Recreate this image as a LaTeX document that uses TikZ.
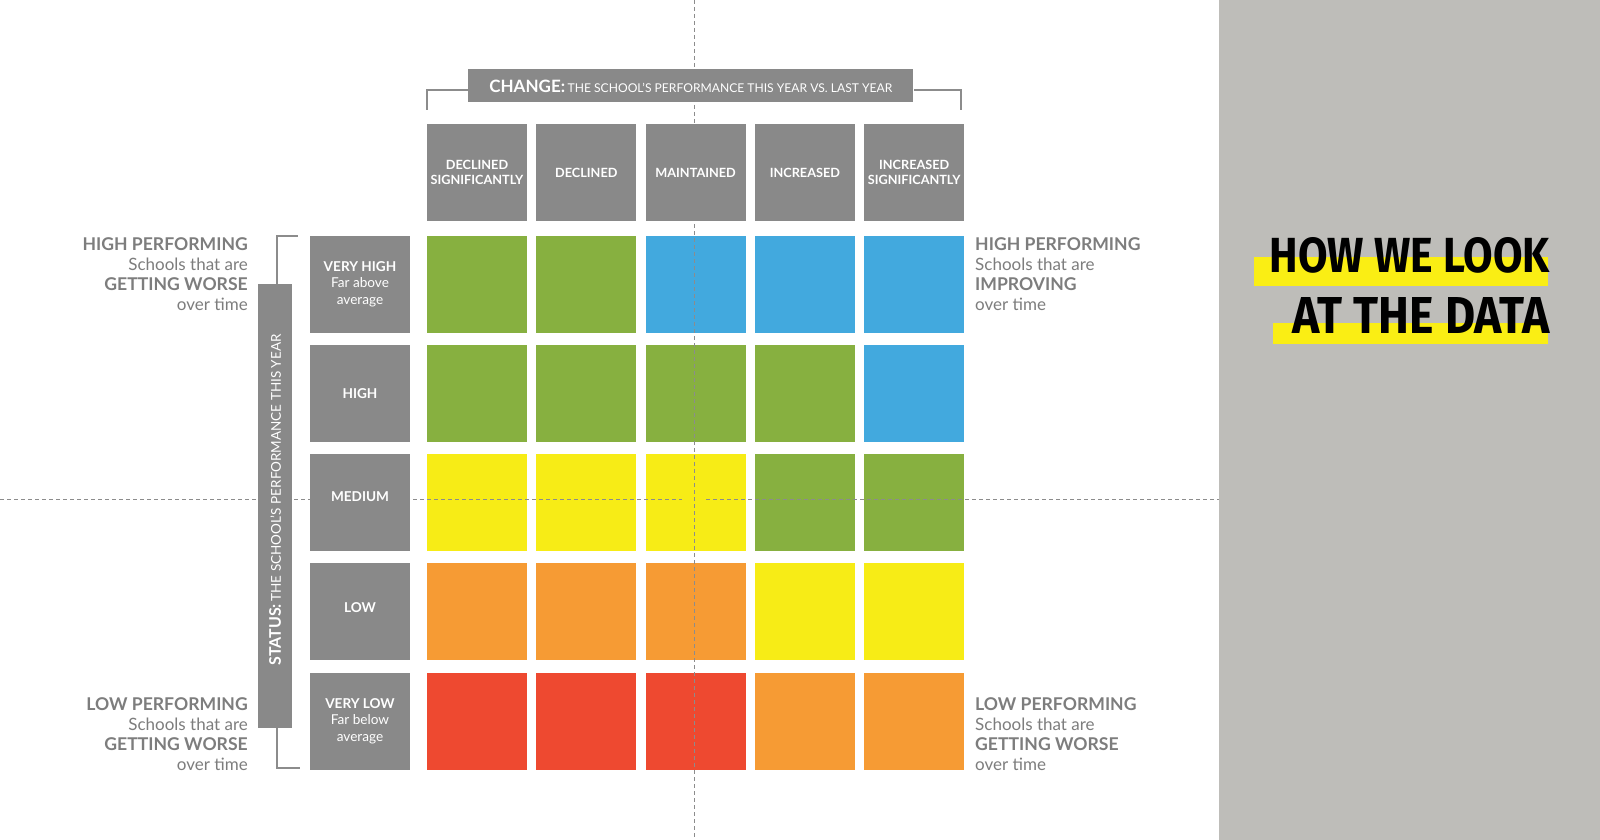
\documentclass[tikz,border=0pt]{standalone}
\usepackage{fontspec}
\setmainfont{Lato}
\newfontfamily\titlefont{Fira Sans}
\usepackage{graphicx}
\definecolor{boxgray}{RGB}{137,137,137}
\definecolor{textgray}{RGB}{125,125,125}
\definecolor{dashgray}{RGB}{140,140,140}
\definecolor{brgray}{RGB}{140,140,140}
\definecolor{panelgray}{RGB}{190,189,185}
\definecolor{cg}{RGB}{135,176,64}
\definecolor{cb}{RGB}{66,169,222}
\definecolor{cy}{RGB}{247,236,22}
\definecolor{co}{RGB}{246,155,52}
\definecolor{cr}{RGB}{238,73,48}
\definecolor{hiyellow}{RGB}{250,238,20}
\begin{document}
\begin{tikzpicture}[x=1pt,y=-1pt,
  cell/.style={minimum width=100pt, minimum height=97pt, inner sep=0pt, draw=none},
  graybox/.style={fill=boxgray, text=white, inner sep=0pt, align=center},
  headbox/.style={graybox, minimum width=100pt, minimum height=96pt, font=\fontsize{12.7}{14.3}\selectfont\bfseries},
  rowbox/.style={graybox, minimum width=100pt, minimum height=97pt, font=\fontsize{13.6}{16.3}\selectfont},
  dashln/.style={draw=dashgray, line width=1pt, dash pattern=on 4pt off 3pt},
  bracket/.style={draw=brgray, line width=1.5pt},
  sidetext/.style={text=textgray, inner sep=0pt, font=\fontsize{17}{20}\selectfont},
]
\useasboundingbox (0,0) rectangle (1600,840);
\fill[white] (0,0) rectangle (1600,840);
\fill[panelgray] (1219,0) rectangle (1600,840);

% colour cells
\foreach \c/\r/\col in {
 0/0/cg,1/0/cg,2/0/cb,3/0/cb,4/0/cb,
 0/1/cg,1/1/cg,2/1/cg,3/1/cg,4/1/cb,
 0/2/cy,1/2/cy,2/2/cy,3/2/cg,4/2/cg,
 0/3/co,1/3/co,2/3/co,3/3/cy,4/3/cy,
 0/4/cr,1/4/cr,2/4/cr,3/4/co,4/4/co}{
  \node[cell, fill=\col] (c\c\r) at ({477+109.3*\c},{284.2+109.2*\r}) {};
}

% dashed guide lines
\coordinate (vt) at (694,0);
\coordinate (vb) at (694,840);
\coordinate (hl) at (0,499);
\coordinate (hg1) at (682,499);
\coordinate (hg2) at (706,499);
\coordinate (hr) at (1219,499);
\draw[dashln] (vt) -- (vb);
\draw[dashln] (hl) -- (hg1);
\draw[dashln] (hg2) -- (hr);

% column headers
\node[headbox] (h0) at (477,172.5) {DECLINED\\SIGNIFICANTLY};
\node[headbox] (h1) at (586.3,172.5) {DECLINED};
\node[headbox] (h2) at (695.6,172.5) {MAINTAINED};
\node[headbox] (h3) at (804.9,172.5) {INCREASED};
\node[headbox] (h4) at (914.2,172.5) {INCREASED\\SIGNIFICANTLY};

% row labels
\node[rowbox] (r0) at (360,284.2) {{\bfseries VERY HIGH}\\Far above\\average};
\node[rowbox] (r1) at (360,393.4) {\bfseries HIGH};
\node[rowbox, text height=44.5pt, text depth=46.5pt] (r2) at (360,502.6) {\bfseries MEDIUM};
\node[rowbox, text height=46pt, text depth=45pt] (r3) at (360,611.8) {\bfseries LOW};
\node[rowbox] (r4) at (360,721.0) {{\bfseries VERY LOW}\\Far below\\average};

% change bar
\node[graybox, minimum width=445pt, minimum height=33pt] (chg) at (690.8,86)
  {{\fontsize{17}{17}\selectfont\bfseries CHANGE:} {\fontsize{12.1}{14}\selectfont THE SCHOOL’S PERFORMANCE THIS YEAR VS. LAST YEAR}};
\coordinate (ctl) at (427,110);
\coordinate (ctr) at (961,110);
\draw[bracket] (ctl) |- ([yshift=-4pt]chg.west);
\draw[bracket] (ctr) |- ([yshift=-4pt]chg.east);

% status bar
\node[graybox, minimum width=34pt, minimum height=444pt] (stat) at (275,506) {};
\node[text=white, inner sep=0pt, rotate=90] (stattext) at (275,500)
  {{\fontsize{16}{16}\selectfont\bfseries STATUS:} {\fontsize{13.5}{16}\selectfont THE SCHOOL’S PERFORMANCE THIS YEAR}};
\coordinate (btop) at (298,236);
\coordinate (bbot) at (300,768);
\draw[bracket] ([xshift=2pt]stat.north) |- (btop);
\draw[bracket] ([xshift=2pt]stat.south) |- (bbot);

% side texts
\node[sidetext, anchor=north east, align=right] (lt) at (248,237.5)
  {{\fontsize{17.6}{20}\selectfont\bfseries HIGH PERFORMING}\\Schools that are\\{\fontsize{17.6}{20}\selectfont\bfseries GETTING WORSE}\\over time};
\node[sidetext, anchor=north east, align=right] (lb) at (248,697.5)
  {{\fontsize{17.6}{20}\selectfont\bfseries LOW PERFORMING}\\Schools that are\\{\fontsize{17.6}{20}\selectfont\bfseries GETTING WORSE}\\over time};
\node[sidetext, anchor=north west, align=left] (rt) at (975,237.5)
  {{\fontsize{17.6}{20}\selectfont\bfseries HIGH PERFORMING}\\Schools that are\\{\fontsize{17.6}{20}\selectfont\bfseries IMPROVING}\\over time};
\node[sidetext, anchor=north west, align=left] (rb) at (975,697.5)
  {{\fontsize{17.6}{20}\selectfont\bfseries LOW PERFORMING}\\Schools that are\\{\fontsize{17.6}{20}\selectfont\bfseries GETTING WORSE}\\over time};

% title
\fill[hiyellow] (1254,257) rectangle (1548,286);
\fill[hiyellow] (1273,323) rectangle (1548,344);
\node[anchor=south east, inner sep=0pt] (t1) at (1550,273.5)
  {\resizebox{280pt}{35pt}{\titlefont\bfseries HOW WE LOOK}};
\node[anchor=south east, inner sep=0pt] (t2) at (1550,334)
  {\resizebox{257pt}{36pt}{\titlefont\bfseries AT THE DATA}};
\end{tikzpicture}
\end{document}
